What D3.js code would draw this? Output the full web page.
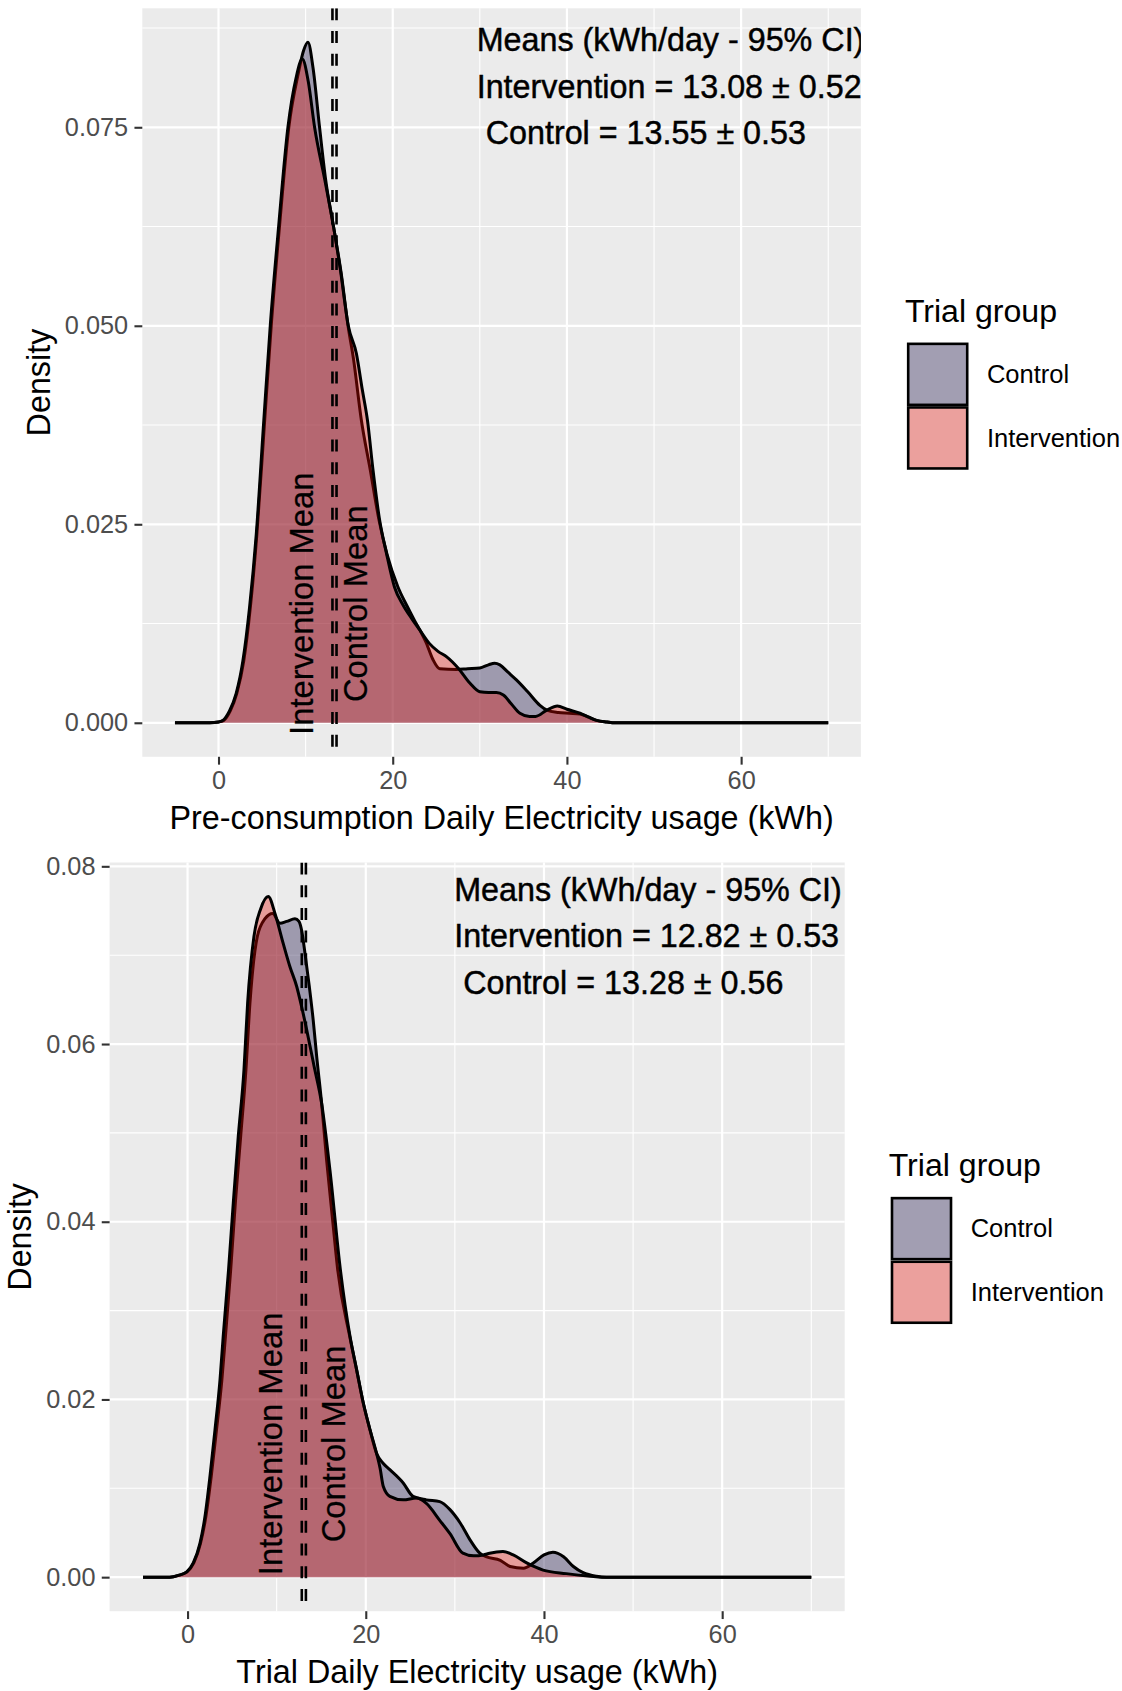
<!DOCTYPE html>
<html><head><meta charset="utf-8">
<script src="https://cdn.jsdelivr.net/npm/d3@7"></script>
<style>
body{margin:0;background:#fff}
text{font-family:"Liberation Sans",Arial,sans-serif}
</style>
</head><body>
<svg id="chart" width="1122" height="1691" xmlns="http://www.w3.org/2000/svg"></svg>
<script>
// ---------- DATA ----------
const groups = ["Control", "Intervention"];
const xTicks = [0, 20, 40, 60];
const preYTicks = [0, 0.025, 0.05, 0.075];
const trialYTicks = [0, 0.02, 0.04, 0.06, 0.08];

// Pre-consumption densities: [kWh, density]
const preControl = [[-5,0],[-1,0],[0,0.0001],[0.6,0.0003],[1.35,0.0015],[2.1,0.0037],[2.9,0.0078],[3.65,0.0145],[4.4,0.0237],[5.3,0.0381],[6.05,0.05],[7.0,0.0625],[8.07,0.075],[9.16,0.0818],[9.75,0.0846],[10.27,0.0857],[10.85,0.0825],[11.6,0.075],[12.3,0.0684],[13.2,0.0625],[14.1,0.0565],[14.87,0.05],[15.5,0.0458],[16.4,0.0381],[17.43,0.0318],[18.43,0.0255],[19.35,0.0212],[20.6,0.0171],[21.6,0.0148],[22.5,0.0129],[23.3,0.0113],[23.8,0.0102],[24.6,0.0080],[25.4,0.0068],[27.3,0.0067],[28.6,0.0068],[30.0,0.0069],[31.0,0.0073],[31.7,0.0075],[32.3,0.0073],[33.2,0.0064],[34.2,0.0054],[35.5,0.0039],[36.9,0.0022],[37.7,0.0016],[39.0,0.0013],[40.3,0.0012],[41.5,0.0011],[42.5,0.0007],[43.4,0.0003],[44.6,0.0001],[45.5,0],[70,0]];
const preIntervention = [[-5,0],[-1,0],[0,0.0001],[0.5,0.0003],[1.26,0.0015],[2.03,0.0037],[2.8,0.0078],[3.56,0.0145],[4.33,0.0237],[5.2,0.0381],[5.94,0.05],[6.9,0.0625],[7.97,0.075],[8.9,0.0812],[9.62,0.0836],[10.3,0.0808],[11.03,0.075],[12.2,0.0684],[13.2,0.0625],[14.0,0.057],[14.9,0.05],[15.83,0.0465],[16.5,0.042],[17.1,0.0381],[17.74,0.0318],[18.5,0.0255],[19.27,0.0214],[20.2,0.0171],[21.2,0.0148],[22.26,0.0130],[23.1,0.0117],[24.2,0.0100],[25.2,0.0090],[26.2,0.0083],[27.5,0.0069],[28.85,0.005],[30.0,0.0039],[31.0,0.0038],[31.9,0.0038],[32.7,0.0035],[33.6,0.0024],[34.6,0.0012],[35.7,0.0008],[36.4,0.0008],[37.7,0.0016],[38.9,0.0021],[40.0,0.0017],[41.5,0.0012],[42.5,0.0007],[43.4,0.0003],[44.6,0.0001],[45.5,0],[70,0]];

// Trial densities: [kWh, density]
const trialControl = [[-5,0],[-2,0],[-1.0,0.0002],[-0.05,0.0006],[0.7,0.0016],[1.45,0.0038],[2.05,0.0068],[2.65,0.0113],[3.25,0.0166],[3.85,0.0222],[4.25,0.0271],[4.84,0.0346],[5.36,0.0421],[5.96,0.0496],[6.55,0.0571],[7.0,0.0646],[7.83,0.0721],[8.69,0.0741],[9.55,0.0747],[10.37,0.0736],[11.12,0.0738],[12.05,0.0741],[12.5,0.0738],[12.8,0.0728],[13.18,0.0702],[13.66,0.0665],[14.1,0.0627],[14.49,0.0586],[15.05,0.0533],[15.6,0.047],[16.3,0.040],[16.85,0.0346],[18.2,0.0271],[18.98,0.0233],[19.72,0.0196],[20.47,0.0166],[21.22,0.0139],[21.97,0.0128],[22.7,0.0121],[24.2,0.0106],[25.3,0.0091],[26.8,0.0087],[28.3,0.0085],[29.45,0.0076],[30.6,0.0061],[31.7,0.0042],[32.8,0.0027],[33.5,0.0023],[35.1,0.0019],[36.2,0.0012],[37.7,0.0010],[38.8,0.0016],[40.0,0.0025],[41.0,0.0028],[42.2,0.0023],[43.3,0.0012],[44.4,0.0005],[45.9,0.0001],[47,0],[70,0]];
const trialIntervention = [[-5,0],[-2,0],[-1.04,0.0002],[-0.1,0.0006],[0.64,0.0016],[1.39,0.0038],[1.95,0.0068],[2.51,0.0113],[3.08,0.0166],[3.64,0.0222],[4.0,0.0271],[4.6,0.0346],[5.13,0.0421],[5.69,0.0496],[6.33,0.0571],[6.74,0.0646],[7.45,0.0721],[8.2,0.0752],[9.06,0.0766],[9.81,0.0747],[10.74,0.0713],[11.49,0.0687],[12.24,0.0665],[12.8,0.0642],[13.37,0.0616],[14.2,0.0575],[15.05,0.0533],[15.98,0.0458],[17.15,0.0346],[18.23,0.0271],[18.98,0.0233],[19.72,0.0196],[20.47,0.0166],[21.22,0.0139],[21.6,0.0123],[21.97,0.0102],[22.7,0.0091],[24.2,0.0087],[25.7,0.0089],[26.8,0.0083],[28.3,0.0064],[29.45,0.0049],[30.9,0.0027],[32.1,0.0024],[33.2,0.0025],[33.9,0.0027],[35.4,0.0029],[36.55,0.0025],[38.06,0.0016],[39.9,0.0008],[42.5,0.0004],[45.2,0.0001],[46.5,0],[70,0]];

// Group means (kWh/day)
const preMeans = [13.08, 13.55];      // Intervention, Control
const trialMeans = [12.82, 13.28];    // Intervention, Control
const meanLabels = ["Intervention Mean", "Control Mean"];

const preNote = ["Means (kWh/day - 95% CI)", "Intervention = 13.08 \u00B1 0.52", " Control = 13.55 \u00B1 0.53"];
const trialNote = ["Means (kWh/day - 95% CI)", "Intervention = 12.82 \u00B1 0.53", " Control = 13.28 \u00B1 0.56"];

const preXTitle = "Pre-consumption Daily Electricity usage (kWh)";
const trialXTitle = "Trial Daily Electricity usage (kWh)";
const yTitle = "Density";
const legendTitle = "Trial group";

// ---------- STYLE ----------
const fills = {Control: "#403763", Intervention: "#E00800"};
const fillOpacity = {Control: 0.45, Intervention: 0.35};

const svg = d3.select("#chart");
svg.append("rect").attr("width", 1122).attr("height", 1691).attr("fill", "#fff");

function drawPanel(cfg, idx) {
  const box = cfg.box;
  const all = cfg.control.concat(cfg.intervention);
  const xmin = d3.min(all, d => d[0]), xmax = d3.max(all, d => d[0]);
  const ymax = d3.max(all, d => d[1]);
  const xr = xmax - xmin;
  const xs = d3.scaleLinear().domain([xmin - 0.05 * xr, xmax + 0.05 * xr]).range([box.left, box.right]);
  const ys = d3.scaleLinear().domain([-0.05 * ymax, 1.05 * ymax]).range([box.bottom, box.top]);

  const g = svg.append("g");
  const clipId = "clip" + idx;
  g.append("clipPath").attr("id", clipId).append("rect")
    .attr("x", box.left).attr("y", box.top).attr("width", box.right - box.left).attr("height", box.bottom - box.top);

  g.append("rect").attr("x", box.left).attr("y", box.top)
    .attr("width", box.right - box.left).attr("height", box.bottom - box.top).attr("fill", "#EBEBEB");

  // minor grid
  const xStep = cfg.xTicks[1] - cfg.xTicks[0];
  const yStep = cfg.yTicks[1] - cfg.yTicks[0];
  const xd = xs.domain(), yd = ys.domain();
  const xMinor = d3.range(cfg.xTicks[0] - xStep / 2, xd[1] + 1e-9, xStep).filter(v => v >= xd[0] && v <= xd[1]);
  const yMinor = d3.range(cfg.yTicks[0] - yStep / 2, yd[1] + 1e-9, yStep).filter(v => v >= yd[0] && v <= yd[1]);
  const grid = g.append("g");
  grid.selectAll(".vmin").data(xMinor).join("line")
    .attr("x1", d => xs(d)).attr("x2", d => xs(d)).attr("y1", box.top).attr("y2", box.bottom)
    .attr("stroke", "#fff").attr("stroke-width", 1.1);
  grid.selectAll(".hmin").data(yMinor).join("line")
    .attr("y1", d => ys(d)).attr("y2", d => ys(d)).attr("x1", box.left).attr("x2", box.right)
    .attr("stroke", "#fff").attr("stroke-width", 1.1);
  grid.selectAll(".vmaj").data(cfg.xTicks).join("line")
    .attr("x1", d => xs(d)).attr("x2", d => xs(d)).attr("y1", box.top).attr("y2", box.bottom)
    .attr("stroke", "#fff").attr("stroke-width", 2.2);
  grid.selectAll(".hmaj").data(cfg.yTicks).join("line")
    .attr("y1", d => ys(d)).attr("y2", d => ys(d)).attr("x1", box.left).attr("x2", box.right)
    .attr("stroke", "#fff").attr("stroke-width", 2.2);

  const plot = g.append("g").attr("clip-path", `url(#${clipId})`);
  const area = d3.area().x(d => xs(d[0])).y0(ys(0)).y1(d => ys(d[1])).curve(d3.curveMonotoneX);
  const line = d3.line().x(d => xs(d[0])).y(d => ys(d[1])).curve(d3.curveMonotoneX);
  const series = [{key: "Control", values: cfg.control}, {key: "Intervention", values: cfg.intervention}];
  series.forEach(s => {
    plot.append("path").attr("d", area(s.values)).attr("fill", fills[s.key]).attr("fill-opacity", fillOpacity[s.key]);
    plot.append("path").attr("d", line(s.values)).attr("fill", "none").attr("stroke", "#000")
      .attr("stroke-width", 3).attr("stroke-linejoin", "round");
  });

  // mean lines
  plot.selectAll(".vmean").data(cfg.means).join("line")
    .attr("x1", d => xs(d)).attr("x2", d => xs(d)).attr("y1", box.top).attr("y2", box.bottom)
    .attr("stroke", "#000").attr("stroke-width", 2.6).attr("stroke-dasharray", "12,10.7");

  // mean labels
  cfg.labelX.forEach((lx, i) => {
    plot.append("text")
      .attr("transform", `translate(${xs(lx)},${ys(cfg.labelY)}) rotate(-90)`)
      .attr("text-anchor", "middle").attr("font-size", 32.8).attr("fill", "#000")
      .attr("stroke", "#000").attr("stroke-width", 0.25)
      .text(meanLabels[i]);
  });

  // note
  const note = plot.append("text").attr("font-size", 32.3).attr("fill", "#000")
    .attr("stroke", "#000").attr("stroke-width", 0.45).style("white-space", "pre");
  cfg.note.forEach((t, i) => {
    note.append("tspan").attr("x", xs(cfg.noteX)).attr("y", ys(cfg.noteY) + i * 46.5)
      .attr("xml:space", "preserve").text(t);
  });

  // axes
  const xAxis = d3.axisBottom(xs).tickValues(cfg.xTicks).tickSize(7.85).tickPadding(6.3).tickFormat(d3.format("d"));
  const yAxis = d3.axisLeft(ys).tickValues(cfg.yTicks).tickSize(7.85).tickPadding(6.3).tickFormat(d3.format(cfg.yFormat));
  const gx = g.append("g").attr("transform", `translate(0,${box.bottom})`).call(xAxis);
  const gy = g.append("g").attr("transform", `translate(${box.left},0)`).call(yAxis);
  [gx, gy].forEach(a => {
    a.select(".domain").remove();
    a.selectAll(".tick line").attr("stroke", "#333333").attr("stroke-width", 2.1);
    a.selectAll(".tick text").attr("fill", "#4D4D4D").attr("font-size", 25.3)
      .attr("font-family", '"Liberation Sans",Arial,sans-serif');
  });

  const cx = (box.left + box.right) / 2, cy = (box.top + box.bottom) / 2;
  g.append("text").attr("x", cx).attr("y", box.bottom + 72).attr("text-anchor", "middle")
    .attr("font-size", 32.3).attr("fill", "#000").text(cfg.xTitle);
  g.append("text").attr("transform", `translate(${cfg.yTitleX},${cy}) rotate(-90)`).attr("text-anchor", "middle")
    .attr("font-size", 32.3).attr("fill", "#000").text(yTitle);

  // legend
  const lg = g.append("g").attr("transform", `translate(${box.right},${cy})`);
  lg.append("text").attr("x", 44).attr("y", -61).attr("font-size", 32.1).attr("fill", "#000").text(legendTitle);
  const kh = 63.6, kw = 61.6;
  groups.forEach((grp, i) => {
    const ky = -40 + i * kh;
    lg.append("rect").attr("x", 46).attr("y", ky).attr("width", kw).attr("height", kh).attr("fill", "#F2F2F2");
    lg.append("rect").attr("x", 46 + 1.3).attr("y", ky + 1.3).attr("width", kw - 2.6).attr("height", kh - 2.6)
      .attr("fill", fills[grp]).attr("fill-opacity", fillOpacity[grp])
      .attr("stroke", "#000").attr("stroke-width", 2.6);
    lg.append("text").attr("x", 126).attr("y", ky + kh / 2 + 8.8).attr("font-size", 25.5).attr("fill", "#000").text(grp);
  });
}

drawPanel({
  box: {left: 142.3, right: 860.9, top: 8.3, bottom: 756.8},
  control: preControl, intervention: preIntervention,
  xTicks: xTicks, yTicks: preYTicks, yFormat: ".3f",
  means: preMeans, labelX: [10.9, 17.05], labelY: 0.015,
  note: preNote, noteX: 29.64, noteY: 0.0846,
  xTitle: preXTitle, yTitleX: 49.5
}, 0);

drawPanel({
  box: {left: 109.6, right: 844.7, top: 862.5, bottom: 1611.2},
  control: trialControl, intervention: trialIntervention,
  xTicks: xTicks, yTicks: trialYTicks, yFormat: ".2f",
  means: trialMeans, labelX: [10.6, 17.7], labelY: 0.015,
  note: trialNote, noteX: 29.92, noteY: 0.0761,
  xTitle: trialXTitle, yTitleX: 31
}, 1);
</script>
</body></html>
